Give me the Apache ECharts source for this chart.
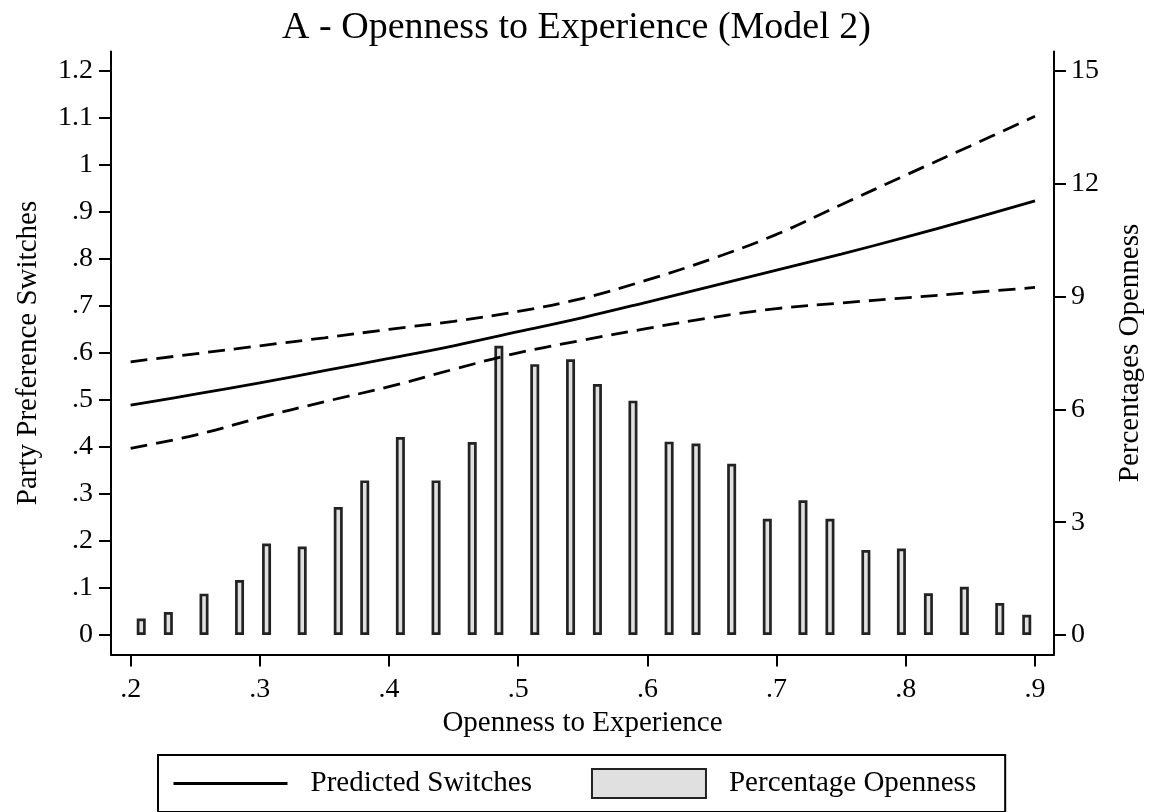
<!DOCTYPE html>
<html>
<head>
<meta charset="utf-8">
<script src="https://cdn.jsdelivr.net/npm/echarts@6/dist/echarts.min.js"></script>
<style>
html,body{margin:0;padding:0;background:#fff;}
#chart{width:1153px;height:812px;}
</style>
</head>
<body>
<div id="chart"></div>
<script>
// Histogram bins (x = openness score, y = percentage)
const binX = [0.2082,0.2292,0.2568,0.2843,0.3052,0.3328,0.3607,0.3812,0.4088,0.4364,0.4644,0.4850,0.5128,0.5405,0.5613,0.5888,0.6168,0.6376,0.6652,0.6928,0.7204,0.7413,0.7691,0.7966,0.8175,0.8453,0.8727,0.8936];
const binPct = [0.44,0.61,1.10,1.46,2.43,2.35,3.40,4.11,5.26,4.11,5.13,7.69,7.20,7.33,6.67,6.23,5.14,5.09,4.55,3.09,3.58,3.09,2.26,2.30,1.11,1.28,0.85,0.54];

// Predicted switches with confidence band
const predX = [0.20,0.25,0.30,0.35,0.40,0.45,0.50,0.55,0.60,0.65,0.70,0.75,0.80,0.85,0.90];
const predY = [0.489,0.512,0.536,0.562,0.588,0.615,0.645,0.675,0.708,0.742,0.776,0.810,0.846,0.884,0.923];
const upperY = [0.581,0.598,0.615,0.632,0.650,0.667,0.688,0.716,0.755,0.800,0.852,0.915,0.978,1.040,1.103];
const lowerY = [0.397,0.425,0.462,0.496,0.528,0.565,0.600,0.627,0.652,0.675,0.694,0.706,0.717,0.728,0.739];

const xTicks = [0.2,0.3,0.4,0.5,0.6,0.7,0.8,0.9];
const yLeftTicks = [0,0.1,0.2,0.3,0.4,0.5,0.6,0.7,0.8,0.9,1,1.1,1.2];
const yRightTicks = [0,3,6,9,12,15];

const FONT = '"Liberation Serif","Times New Roman",serif';
function dotFmt(v){
  let s = String(+(+v).toFixed(2));
  if (s.startsWith('0.')) s = s.slice(1);
  return s;
}
const zip = (a,b) => a.map((v,i)=>[v,b[i]]);

const chart = echarts.init(document.getElementById('chart'));
const axisCommon = {
  axisLine:{show:true,onZero:false,lineStyle:{color:'#000',width:2}},
  axisTick:{show:true,inside:false,length:12,lineStyle:{color:'#000',width:2}},
  splitLine:{show:false},
  nameTextStyle:{fontFamily:FONT,fontSize:29,color:'#000'}
};
chart.setOption({
  backgroundColor:'#fff',
  animation:false,
  title:{
    text:'A - Openness to Experience (Model 2)',
    left:'center', top:4,
    textStyle:{fontFamily:FONT,fontSize:38,fontWeight:'normal',color:'#000'}
  },
  grid:{left:111,right:98,top:51.5,bottom:157.5,containLabel:false},
  legend:{
    left:158, top:755,
    orient:'horizontal',
    padding:[13,29,13,14],
    borderColor:'#000', borderWidth:2, backgroundColor:'#fff',
    itemWidth:114, itemHeight:29, itemGap:59,
    textStyle:{fontFamily:FONT,fontSize:29,color:'#000',padding:[0,0,0,18]},
    data:[
      {name:'Predicted Switches', itemStyle:{opacity:0}, lineStyle:{width:3}},
      {name:'Percentage Openness', icon:'rect'}
    ]
  },
  xAxis:Object.assign({}, axisCommon, {
    type:'value', min:0.1848, max:0.9147,
    name:'Openness to Experience', nameLocation:'middle', nameGap:52,
    axisTick:Object.assign({}, axisCommon.axisTick, {customValues:xTicks}),
    axisLabel:{customValues:xTicks, formatter:dotFmt, fontFamily:FONT, fontSize:28, color:'#000', margin:21}
  }),
  yAxis:[
    Object.assign({}, axisCommon, {
      type:'value', position:'left', min:-0.0415, max:1.2408,
      name:'Party Preference Switches', nameLocation:'middle', nameGap:68,
      axisTick:Object.assign({}, axisCommon.axisTick, {customValues:yLeftTicks}),
      axisLabel:{customValues:yLeftTicks, formatter:dotFmt, fontFamily:FONT, fontSize:28, color:'#000', margin:18}
    }),
    Object.assign({}, axisCommon, {
      type:'value', position:'right', min:-0.518, max:15.51,
      name:'Percentages Openness', nameLocation:'middle', nameGap:62,
      axisTick:Object.assign({}, axisCommon.axisTick, {customValues:yRightTicks}),
      axisLabel:{customValues:yRightTicks, formatter:dotFmt, fontFamily:FONT, fontSize:28, color:'#000', margin:17}
    })
  ],
  series:[
    {
      name:'Percentage Openness', type:'bar', xAxisIndex:0, yAxisIndex:1,
      data:zip(binX, binPct), barWidth:9,
      itemStyle:{color:'#e0e0e0', borderColor:'#222', borderWidth:2.7},
      z:1
    },
    {
      name:'Upper', type:'line', yAxisIndex:0, data:zip(predX, upperY),
      smooth:0.4, symbol:'none',
      lineStyle:{color:'#000', width:2.8, type:[17,9]}, z:3
    },
    {
      name:'Lower', type:'line', yAxisIndex:0, data:zip(predX, lowerY),
      smooth:0.4, symbol:'none',
      lineStyle:{color:'#000', width:2.8, type:[17,9]}, z:3
    },
    {
      name:'Predicted Switches', type:'line', yAxisIndex:0, data:zip(predX, predY),
      smooth:0.4, symbol:'none',
      itemStyle:{color:'#000'},
      lineStyle:{color:'#000', width:2.8}, z:4
    }
  ]
});
</script>
</body>
</html>
